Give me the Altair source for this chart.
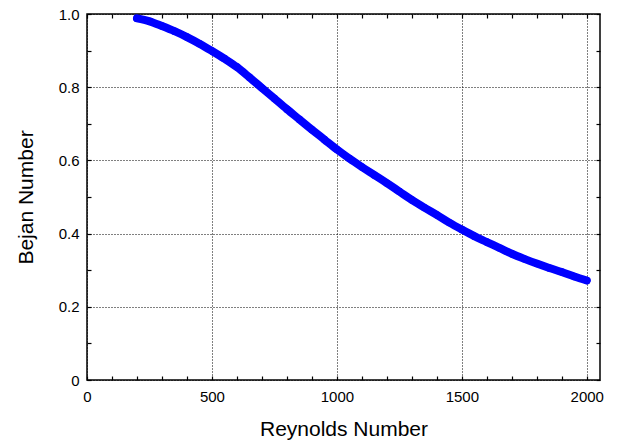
import altair as alt
import pandas as pd

reynolds = [200, 250, 300, 350, 400, 450, 500, 550, 600, 650, 700, 750, 800, 850,
            900, 950, 1000, 1050, 1100, 1150, 1200, 1250, 1300, 1350, 1400, 1450,
            1500, 1550, 1600, 1650, 1700, 1750, 1800, 1850, 1900, 1950, 2000]
bejan = [0.988, 0.980, 0.967, 0.953, 0.937, 0.919, 0.899, 0.878, 0.855, 0.827,
         0.798, 0.769, 0.740, 0.712, 0.684, 0.657, 0.630, 0.605, 0.582, 0.560,
         0.538, 0.515, 0.492, 0.471, 0.451, 0.430, 0.411, 0.393, 0.377, 0.361,
         0.345, 0.331, 0.318, 0.306, 0.295, 0.283, 0.272]

x_major = [0, 500, 1000, 1500, 2000]
x_minor = list(range(0, 2001, 100))
y_major = [0, 0.2, 0.4, 0.6, 0.8, 1.0]
y_minor = [round(i * 0.1, 1) for i in range(11)]
x_domain = [0, 2053]
y_domain = [0, 1.0]

df = pd.DataFrame({"Re": reynolds, "Be": bejan})

FONT = "Liberation Sans"
BLUE = "#0000ff"

xs = alt.Scale(domain=x_domain, nice=False, zero=False)
ys = alt.Scale(domain=y_domain, nice=False, zero=False)

base = alt.Chart(df)

main_axes = base.mark_line(strokeWidth=8, strokeCap="round", color=BLUE,
                           interpolate="monotone").encode(
    x=alt.X("Re:Q", scale=xs, axis=alt.Axis(
        orient="bottom", values=x_major, title="Reynolds Number", grid=True,
        gridDash=[1, 2], gridColor="#000000", gridWidth=1, gridOpacity=1,
        ticks=False, tickSize=0, domain=False, labelPadding=9, format="d",
        labelFontSize=15, labelFont=FONT, labelColor="#000000",
        titleFontSize=21, titleFont=FONT, titleFontWeight="normal",
        titleColor="#000000", titlePadding=14, labelFlush=False)),
    y=alt.Y("Be:Q", scale=ys, axis=alt.Axis(
        orient="left", values=y_major, title="Bejan Number", grid=True,
        gridDash=[1, 2], gridColor="#000000", gridWidth=1, gridOpacity=1,
        ticks=False, tickSize=0, domain=False, labelPadding=8,
        labelExpr="datum.value == 0 ? '0' : format(datum.value, '.1f')",
        labelFontSize=15, labelFont=FONT, labelColor="#000000",
        titleFontSize=21, titleFont=FONT, titleFontWeight="normal",
        titleColor="#000000", titlePadding=22, labelFlush=False)),
)

points = base.mark_circle(size=55, color=BLUE, opacity=1).encode(
    x=alt.X("Re:Q", scale=xs, axis=alt.Axis(
        orient="bottom", values=x_minor, offset=-4, tickSize=4, tickWidth=1.2,
        tickColor="#000000", labels=False, domain=False, grid=False, title=None)),
    y=alt.Y("Be:Q", scale=ys, axis=alt.Axis(
        orient="left", values=y_minor, offset=-4, tickSize=4, tickWidth=1.2,
        tickColor="#000000", labels=False, domain=False, grid=False, title=None)),
)

mirror = base.mark_circle(size=55, color=BLUE, opacity=0).encode(
    x=alt.X("Re:Q", scale=xs, axis=alt.Axis(
        orient="top", values=x_minor, offset=-4, tickSize=4, tickWidth=1.2,
        tickColor="#000000", labels=False, domain=False, grid=False, title=None)),
    y=alt.Y("Be:Q", scale=ys, axis=alt.Axis(
        orient="right", values=y_minor, offset=-4, tickSize=4, tickWidth=1.2,
        tickColor="#000000", labels=False, domain=False, grid=False, title=None)),
)

chart = alt.layer(main_axes, points, mirror).resolve_scale(
    x="independent", y="independent"
).resolve_axis(
    x="independent", y="independent"
).properties(
    width=513, height=366,
    autosize=alt.AutoSizeParams(type="none"),
    padding={"left": 79, "top": 6, "right": 11, "bottom": 60},
    background="#ffffff",
).configure_view(
    stroke="#000000", strokeWidth=1.5
)

chart.save("out.html", embed_options={"renderer": "svg", "actions": False})
